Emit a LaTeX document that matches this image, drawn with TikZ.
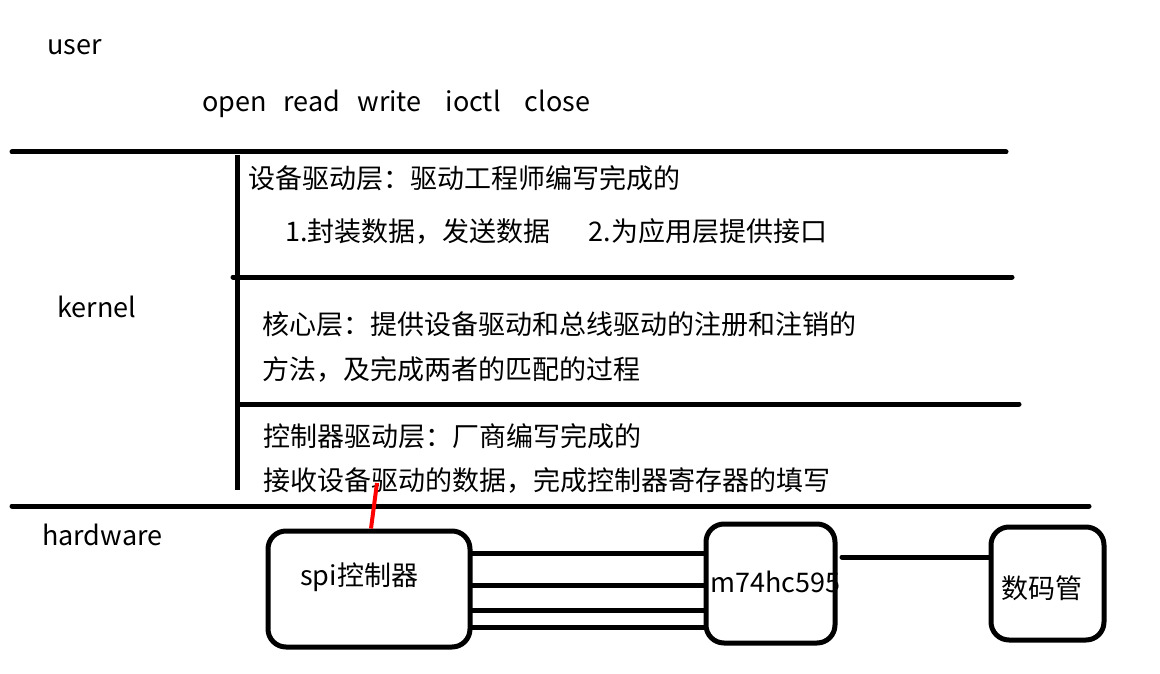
\documentclass[tikz,border=0pt]{standalone}
\usepackage{fontspec}
\setmainfont{Noto Sans CJK SC}
\tikzset{
  lbl/.style={anchor=west, inner sep=0pt, font=\fontsize{27}{31}\selectfont},
  sep/.style={line width=5pt, line cap=round},
  blk/.style={draw, line width=5pt, rounded corners=18pt},
  wire/.style={line width=5pt, line cap=round},
}
\begin{document}
\begin{tikzpicture}[x=1pt,y=-1pt]
\useasboundingbox (0,0) rectangle (1160,674);
% separators
\coordinate (l1a) at (12,152); \coordinate (l1b) at (1006,152);
\coordinate (l2a) at (233,277); \coordinate (l2b) at (1012,277);
\coordinate (l3a) at (239,404); \coordinate (l3b) at (1019,404);
\coordinate (l4a) at (12,506); \coordinate (l4b) at (1089,506);
\coordinate (va) at (237,155); \coordinate (vb) at (237,490);
\draw[sep] (l1a) -- (l1b);
\draw[sep] (l2a) -- (l2b);
\draw[sep] (l3a) -- (l3b);
\draw[sep] (l4a) -- (l4b);
\draw[line width=5pt] (va) -- (vb);
% labels
\node[lbl] (user) at (47,47) {user};
\node[lbl] (ops) at (202,104) {open\hspace{17pt}read\hspace{17pt}write\hspace{24pt}ioctl\hspace{24pt}close};
\node[lbl] (kernel) at (57,307) {kernel};
\node[lbl] (hw) at (42,535) {hardware};
\node[lbl] (t1) at (248,178) {设备驱动层：驱动工程师编写完成的};
\node[lbl] (t2) at (285,231) {1.封装数据，发送数据\hspace{38pt}2.为应用层提供接口};
\node[lbl] (t3) at (262,324) {核心层：提供设备驱动和总线驱动的注册和注销的};
\node[lbl] (t4) at (262,369) {方法，及完成两者的匹配的过程};
\node[lbl] (t5) at (263,436) {控制器驱动层：厂商编写完成的};
\node[lbl] (t6) at (263,480) {接收设备驱动的数据，完成控制器寄存器的填写};
% hardware blocks
\node[blk, minimum width=202pt, minimum height=116pt] (spi) at (369,589) {};
\node[lbl] (spit) at (300,577) {spi控制器};
\node[blk, minimum width=129pt, minimum height=119pt] (hc) at (770.5,583.5) {};
\node[lbl] (hct) at (710,582) {m74hc595};
\node[blk, minimum width=113pt, minimum height=113pt] (seg) at (1047.5,583.5) {};
\node[lbl] (segt) at (1001,588) {数码管};
% wires
\draw[wire] (spi.east |- 0,553) -- (hc.west |- 0,553);
\draw[wire] (spi.east |- 0,585) -- (hc.west |- 0,585);
\draw[wire] (spi.east |- 0,610) -- (hc.west |- 0,610);
\draw[wire] (spi.east |- 0,627) -- (hc.west |- 0,627);
\draw[wire] (842,557) -- (seg.west |- 0,557);
\coordinate (rtop) at (377,483);
\draw[red, line width=4pt] (rtop) -- (spi.north -| 371,0);
\end{tikzpicture}
\end{document}
